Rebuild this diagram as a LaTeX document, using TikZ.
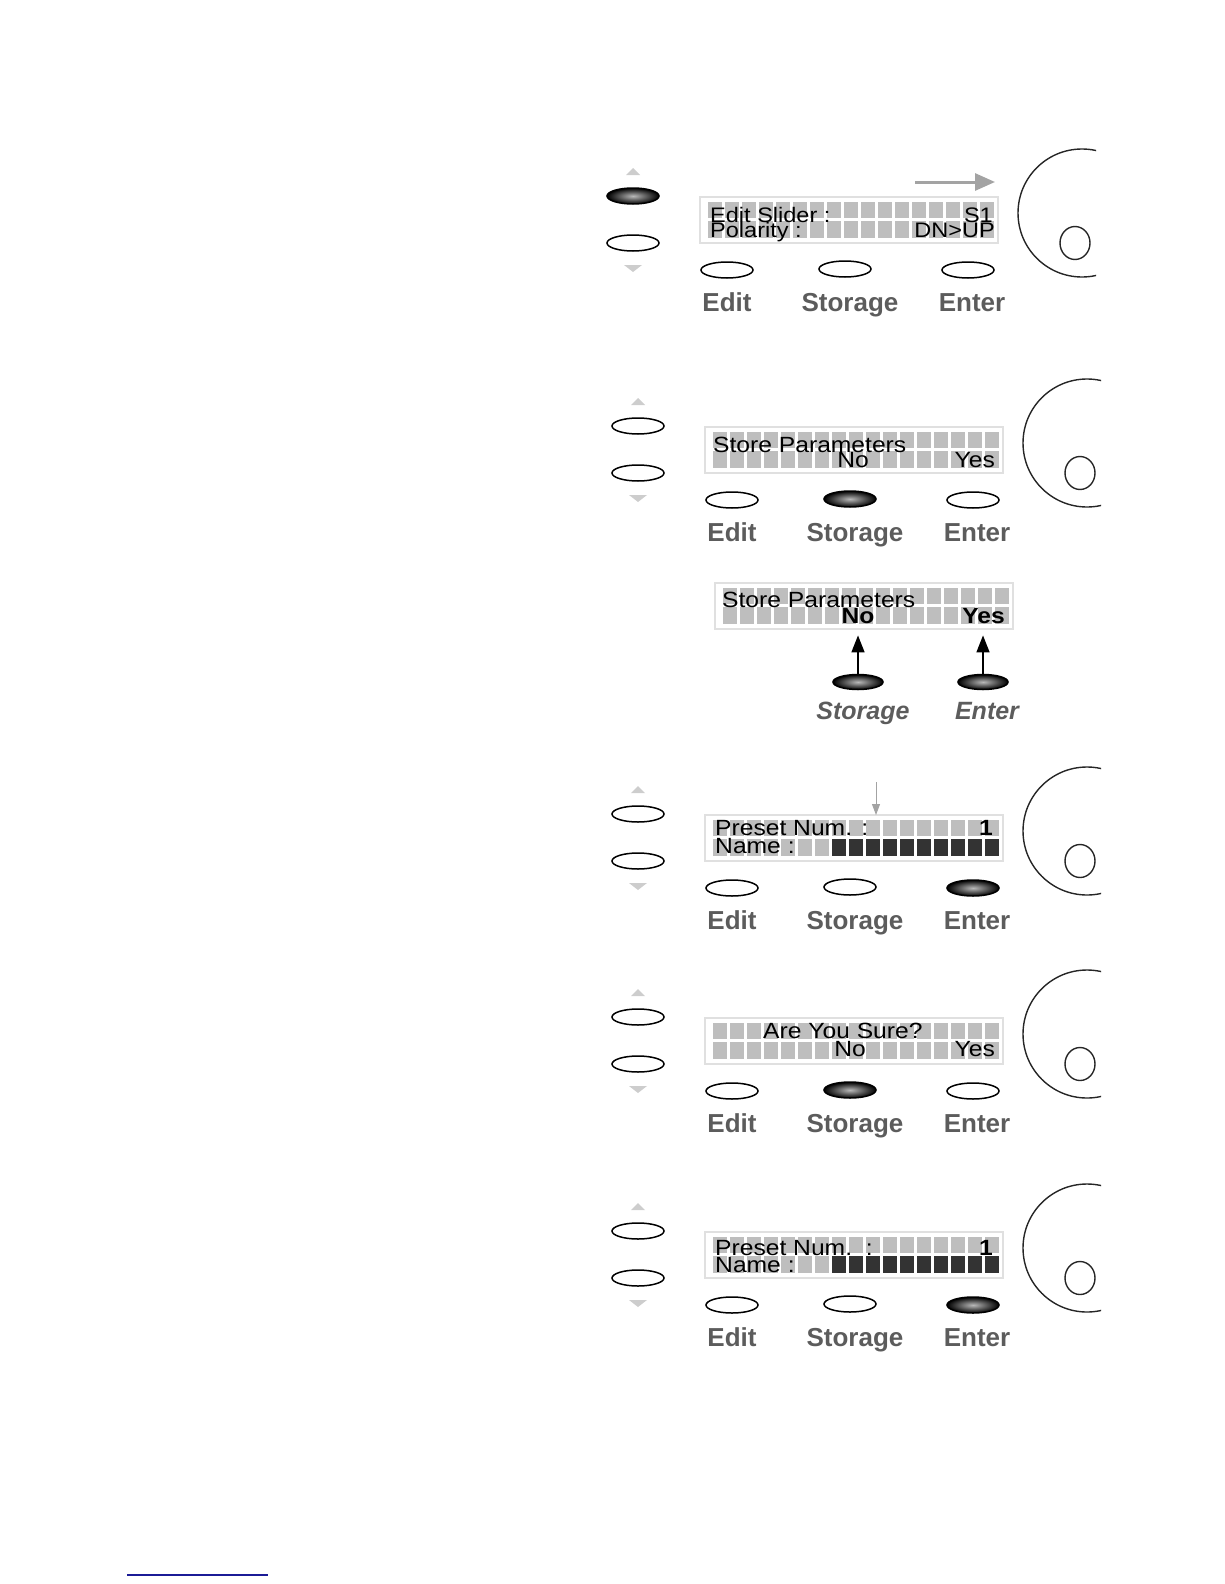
\documentclass[tikz,border=0pt]{standalone}
\usepackage{fontspec}
\setmainfont{Liberation Sans}
\newfontfamily\lcdfont[FakeStretch=1.12]{Liberation Sans}
\usepackage{tikz}
\usetikzlibrary{shapes.geometric, arrows.meta}

\definecolor{keygray}{HTML}{5C5C5C}
\definecolor{cellgray}{HTML}{BEBEBE}
\definecolor{celldark}{HTML}{333333}
\definecolor{hintgray}{HTML}{A3A3A3}
\definecolor{tickgray}{HTML}{CDCDCD}
\definecolor{linkblue}{HTML}{1B1B96}

% LCD window, 2 rows of 17 cells; #1 = first dark cell of the second row
\newcommand{\lcdwindow}[1]{%
    \draw[lcdframe] (0,0) rectangle (298,46);
    \foreach \i in {0,...,16} {
        \fill[cellgray] (8+17*\i,5) rectangle ++(13.5,16);
        \ifnum\i<#1
            \fill[cellgray] (8+17*\i,24) rectangle ++(13.5,17);
        \else
            \fill[celldark] (8+17*\i,24) rectangle ++(13.5,17);
        \fi
    }
}

% buttons, labels and knob round the LCD
% #1 prefix, #2 upper side key, #3 Edit, #4 Storage, #5 Enter
\newcommand{\frontpanel}[5]{%
    % side keys
    \fill[tickgray] (-74,-22) -- (-60,-22) -- (-67,-29) -- cycle;
    \node[#2] (#1-up) at (-67,-1) {};
    \node[btn] (#1-dn) at (-67,46) {};
    \fill[tickgray] (-76,68) -- (-58,68) -- (-67,75) -- cycle;
    % bottom keys
    \node[#3] (#1-edit) at (27,73) {};
    \node[#4] (#1-store) at (145,72) {};
    \node[#5] (#1-enter) at (268,73) {};
    \node[keylabel] (#1-edittxt) at (27,114) {Edit};
    \node[keylabel] (#1-storetxt) at (150,114) {Storage};
    \node[keylabel] (#1-entertxt) at (272,114) {Enter};
    % knob
    \begin{scope}
        \clip (300,-80) rectangle (396,120);
        \draw[knob] (382,16) circle (64);
    \end{scope}
    \draw[knob] (375,46) ellipse (15 and 16.5);
}

\begin{document}
\begin{tikzpicture}[x=1pt, y=-1pt,
    btn/.style={draw, ellipse, line width=1.5pt, minimum width=52pt, minimum height=16pt, inner sep=0pt},
    btnon/.style={btn, shade, shading=radial, inner color=gray!55, outer color=black},
    lcdframe/.style={draw=black!12, line width=1.2pt, fill=white},
    lcdtext/.style={inner sep=0pt, anchor=base, font=\lcdfont\fontsize{22}{22}\selectfont, text=black},
    keylabel/.style={inner sep=0pt, anchor=base, font=\fontsize{26}{26}\selectfont\bfseries, text=keygray},
    knob/.style={draw=black!85, line width=1.4pt},
    pointer/.style={-{Triangle[length=17pt, width=13pt]}, line width=1.6pt}]

    \useasboundingbox (0,0) rectangle (1224,1584);

    % ==========================================
    % PANEL 1: Edit Slider
    % ==========================================
    \begin{scope}[shift={(700,197)}]
        \lcdwindow{17}
        \node[lcdtext, anchor=base west, font=\lcdfont\fontsize{21}{21}\selectfont] (p1-l1) at (10,25) {Edit Slider :};
        \node[lcdtext, anchor=base east, font=\lcdfont\fontsize{21}{21}\selectfont] (p1-s1) at (293,25) {S1};
        \node[lcdtext, anchor=base west, font=\lcdfont\fontsize{21}{21}\selectfont] (p1-l2) at (10,40) {Polarity :};
        \node[lcdtext, anchor=base east, font=\lcdfont\fontsize{21}{21}\selectfont] (p1-pol) at (295,40) {DN>UP};
        \frontpanel{p1}{btnon}{btn}{btn}{btn}
        % scroll hint
        \coordinate (p1-from) at (215,-15);
        \coordinate (p1-to) at (295,-15);
        \draw[hintgray, line width=3pt, -{Triangle[length=20pt, width=17pt]}] (p1-from) -- (p1-to);
    \end{scope}

    % ==========================================
    % PANEL 2: Store Parameters
    % ==========================================
    \begin{scope}[shift={(705,427)}]
        \lcdwindow{17}
        \node[lcdtext, anchor=base west] (p2-l1) at (8,25) {Store Parameters};
        \node[lcdtext] (p2-no) at (148,40) {No};
        \node[lcdtext, anchor=base east] (p2-yes) at (290,40) {Yes};
        \frontpanel{p2}{btn}{btn}{btnon}{btn}
    \end{scope}

    % ==========================================
    % PANEL 3: No / Yes keys
    % ==========================================
    \begin{scope}[shift={(715,583)}]
        \lcdwindow{17}
        \node[lcdtext, anchor=base west] (p3-l1) at (7,24) {Store Parameters};
        \node[lcdtext, font=\lcdfont\fontsize{22}{22}\selectfont\bfseries] (p3-no) at (143,40) {No};
        \node[lcdtext, anchor=base east, font=\lcdfont\fontsize{22}{22}\selectfont\bfseries] (p3-yes) at (290,40) {Yes};
        \node[btnon, minimum width=50pt, minimum height=15pt] (p3-store) at (143,99) {};
        \node[btnon, minimum width=50pt, minimum height=15pt] (p3-enter) at (268,99) {};
        \node[keylabel, font=\fontsize{25}{25}\selectfont\bfseries\itshape] (p3-storetxt) at (148,136) {Storage};
        \node[keylabel, font=\fontsize{25}{25}\selectfont\bfseries\itshape] (p3-entertxt) at (272,136) {Enter};
        \draw[pointer, shorten >=12pt] (p3-store.north) -- (p3-no.south);
        \draw[pointer, shorten >=12pt] (p3-enter.north) -- (p3-enter.north |- p3-yes.south);
    \end{scope}

    % ==========================================
    % PANEL 4: Preset Num.
    % ==========================================
    \begin{scope}[shift={(705,815)}]
        \lcdwindow{7}
        \node[lcdtext, anchor=base west] (p4-l1) at (10,20) {Preset Num. :};
        \node[lcdtext, anchor=base east, font=\lcdfont\fontsize{22}{22}\selectfont\bfseries] (p4-num) at (288,20) {1};
        \node[lcdtext, anchor=base west] (p4-l2) at (10,38) {Name :};
        \frontpanel{p4}{btn}{btn}{btn}{btnon}
        % cursor hint
        \coordinate (p4-from) at (171,-33);
        \coordinate (p4-to) at (171,0);
        \draw[hintgray, line width=1pt, -{Triangle[length=11pt, width=8pt]}] (p4-from) -- (p4-to);
    \end{scope}

    % ==========================================
    % PANEL 5: Are You Sure?
    % ==========================================
    \begin{scope}[shift={(705,1018)}]
        \lcdwindow{17}
        \node[lcdtext, anchor=base west] (p5-l1) at (58,20) {Are You Sure?};
        \node[lcdtext] (p5-no) at (145,38) {No};
        \node[lcdtext, anchor=base east] (p5-yes) at (290,38) {Yes};
        \frontpanel{p5}{btn}{btn}{btnon}{btn}
    \end{scope}

    % ==========================================
    % PANEL 6: Preset Num. again
    % ==========================================
    \begin{scope}[shift={(705,1232)}]
        \lcdwindow{7}
        \node[lcdtext, anchor=base west] (p6-l1) at (10,23) {Preset Num.\ \ :};
        \node[lcdtext, anchor=base east, font=\lcdfont\fontsize{22}{22}\selectfont\bfseries] (p6-num) at (288,23) {1};
        \node[lcdtext, anchor=base west] (p6-l2) at (10,40) {Name :};
        \frontpanel{p6}{btn}{btn}{btn}{btnon}
    \end{scope}

    % link rule at the foot
    \draw[linkblue, line width=2pt] (127,1575) -- (268,1575);
\end{tikzpicture}
\end{document}
